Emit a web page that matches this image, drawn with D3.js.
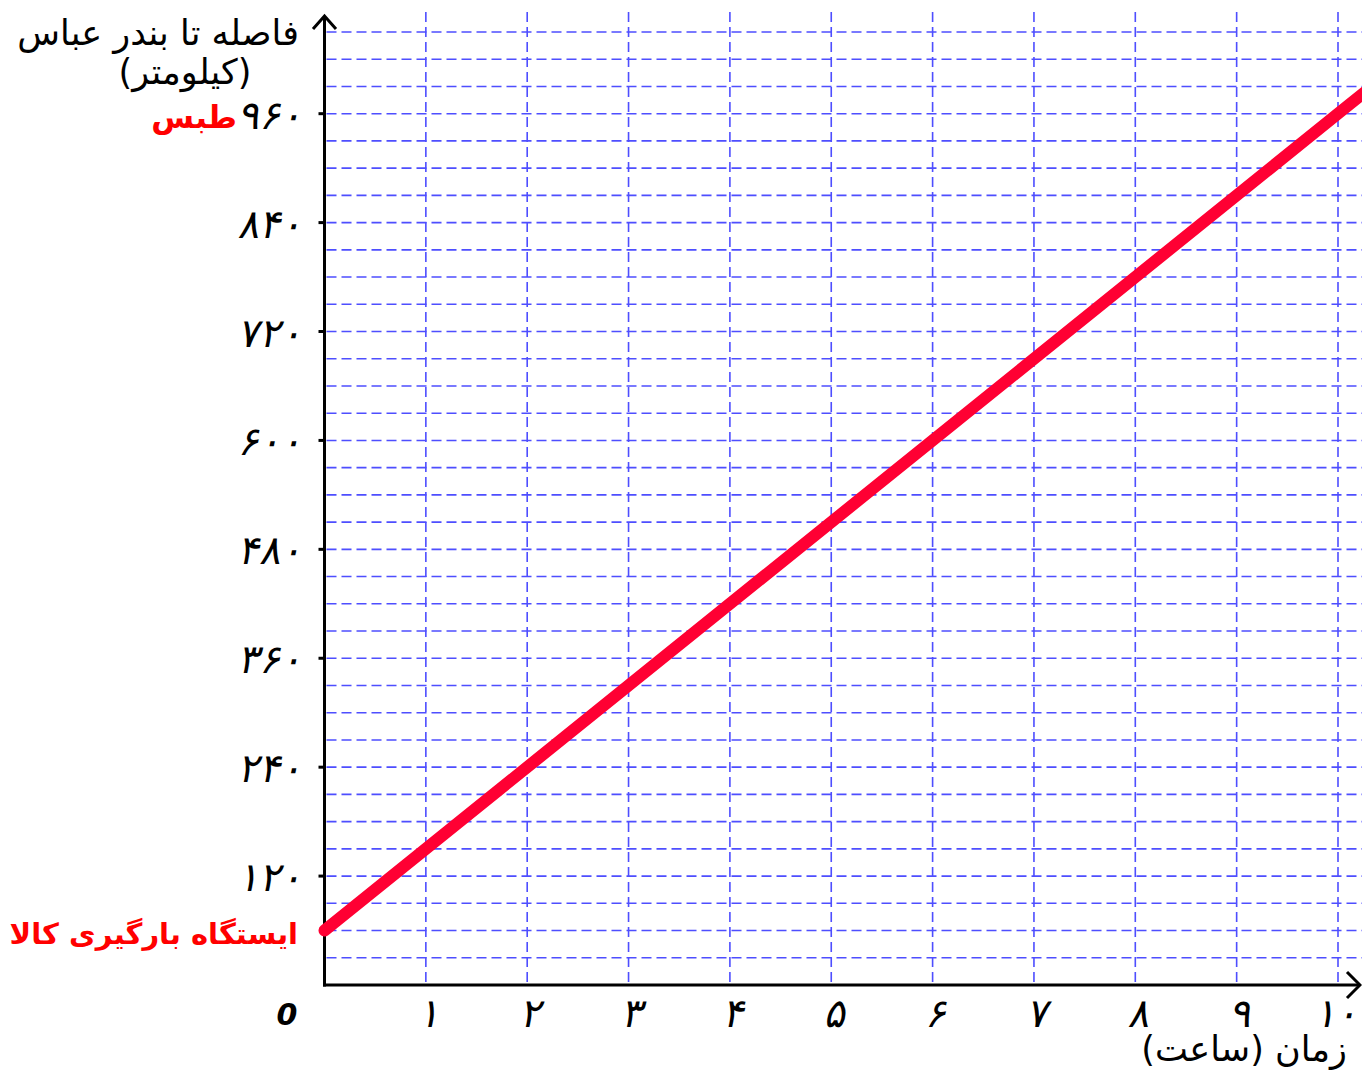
<!DOCTYPE html>
<html>
<head>
<meta charset="utf-8">
<script src="https://cdn.jsdelivr.net/npm/d3@7"></script>
<style>
  body { margin: 0; background: #fff; }
  text { font-family: "DejaVu Sans", sans-serif; }
</style>
</head>
<body>
<svg id="chart" width="1362" height="1071"></svg>
<script>
// data
var hours = [1, 2, 3, 4, 5, 6, 7, 8, 9, 10];
var hourLabels = ["۱", "۲", "۳", "۴", "۵", "۶", "۷", "۸", "۹", "۱۰"];
var kmTicks = [120, 240, 360, 480, 600, 720, 840, 960];
var kmLabels = ["۱۲۰", "۲۴۰", "۳۶۰", "۴۸۰", "۶۰۰", "۷۲۰", "۸۴۰", "۹۶۰"];
var kmGrid = d3.range(30, 1051, 30);
var tripTime = [0, 10, 10.5];
var tripKm = [60, 960, 1005];

var svg = d3.select("#chart");

var x = d3.scaleLinear().domain([0, 10]).range([324.5, 1338]);
var y = d3.scaleLinear().domain([0, 1050]).range([985, 32]);

// grid
var grid = svg.append("g")
  .attr("stroke", "#3b3bff")
  .attr("stroke-width", 1.6)
  .attr("stroke-dasharray", "10,5")
  .attr("opacity", 0.9);

grid.selectAll("line.h")
  .data(kmGrid)
  .join("line")
  .attr("class", "h")
  .attr("x1", x(0) + 2).attr("x2", 1362)
  .attr("y1", function(d) { return y(d); })
  .attr("y2", function(d) { return y(d); });

grid.selectAll("line.v")
  .data(hours)
  .join("line")
  .attr("class", "v")
  .attr("x1", function(d) { return x(d); })
  .attr("x2", function(d) { return x(d); })
  .attr("y1", 12).attr("y2", y(0));

// axes
var axes = svg.append("g")
  .attr("stroke", "#000")
  .attr("stroke-width", 3)
  .attr("fill", "none");

axes.append("line").attr("x1", x(0)).attr("x2", x(0)).attr("y1", y(0) + 1.5).attr("y2", 16);
axes.append("line").attr("x1", x(0) - 1.5).attr("x2", 1359).attr("y1", y(0)).attr("y2", y(0));
axes.append("path").attr("d", "M313,29L" + x(0) + ",16L336,29");
axes.append("path").attr("d", "M1347,972L1360," + y(0) + "L1347,998");

// y ticks
axes.selectAll("line.tick")
  .data(kmTicks)
  .join("line")
  .attr("class", "tick")
  .attr("x1", x(0) - 6).attr("x2", x(0))
  .attr("y1", function(d) { return y(d); })
  .attr("y2", function(d) { return y(d); });

// tick labels, slanted like the original
svg.append("g")
  .selectAll("text")
  .data(kmTicks)
  .join("text")
  .attr("transform", function(d) { return "translate(302," + (y(d) + 15) + ") skewX(-12)"; })
  .attr("text-anchor", "end")
  .attr("font-size", 40)
  .text(function(d, i) { return kmLabels[i]; });

svg.append("g")
  .selectAll("text")
  .data(hours)
  .join("text")
  .attr("transform", function(d) {
    return "translate(" + Math.min(x(d) + 3, 1336) + ",1027) skewX(-12)";
  })
  .attr("text-anchor", "middle")
  .attr("font-size", 40)
  .text(function(d, i) { return hourLabels[i]; });

svg.append("text")
  .attr("x", 287).attr("y", 1025)
  .attr("text-anchor", "middle")
  .attr("font-size", 30)
  .attr("font-style", "italic")
  .attr("font-family", "Liberation Serif")
  .attr("font-weight", "bold")
  .text("0");

// axis titles
svg.append("text")
  .attr("x", 299).attr("y", 45)
  .attr("direction", "rtl")
  .attr("text-anchor", "start")
  .attr("font-size", 35)
  .text("فاصله تا بندر عباس");

svg.append("text")
  .attr("x", 185).attr("y", 84)
  .attr("direction", "rtl")
  .attr("text-anchor", "middle")
  .attr("font-size", 35)
  .text("(کیلومتر)");

svg.append("text")
  .attr("x", 1347).attr("y", 1061)
  .attr("direction", "rtl")
  .attr("text-anchor", "start")
  .attr("font-size", 35)
  .text("زمان (ساعت)");

// place names
svg.append("text")
  .attr("x", 237).attr("y", 128)
  .attr("direction", "rtl")
  .attr("text-anchor", "start")
  .attr("font-size", 31)
  .attr("font-weight", "bold")
  .attr("fill", "#ff0000")
  .text("طبس");

svg.append("text")
  .attr("x", 298).attr("y", 944)
  .attr("direction", "rtl")
  .attr("text-anchor", "start")
  .attr("font-size", 29)
  .attr("font-weight", "bold")
  .attr("fill", "#ff0000")
  .text("ایستگاه بارگیری کالا");

// trip line
var line = d3.line()
  .x(function(d) { return x(d); })
  .y(function(d, i) { return y(tripKm[i]); });

svg.append("path")
  .datum(tripTime)
  .attr("d", line)
  .attr("fill", "none")
  .attr("stroke", "#ff0033")
  .attr("stroke-width", 12)
  .attr("stroke-linecap", "round");
</script>
</body>
</html>
